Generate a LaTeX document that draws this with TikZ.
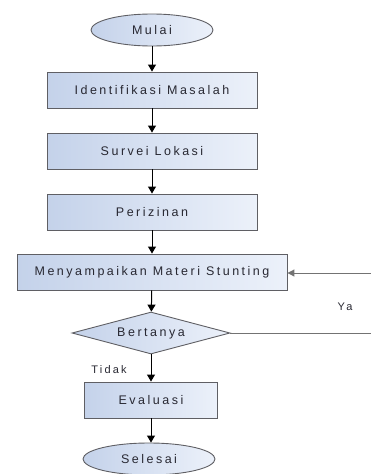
\documentclass[tikz,border=0pt]{standalone}
\usepackage{fontspec}
\setmainfont{Liberation Sans}
\usetikzlibrary{shapes.geometric,arrows.meta}

\definecolor{boxleft}{RGB}{196,210,234}
\definecolor{boxright}{RGB}{236,241,250}
\definecolor{edgegray}{RGB}{95,95,100}
\definecolor{textgray}{RGB}{40,40,50}

\tikzset{
  label font/.style={font=\fontsize{12.5}{14}\selectfont\addfontfeature{LetterSpace=20}, text=textgray},
  stepbox/.style={rectangle, draw=edgegray, line width=0.9pt,
    left color=boxleft, right color=boxright,
    minimum height=36pt, inner sep=0pt, label font},
  terminal/.style={ellipse, draw=edgegray, line width=0.9pt,
    left color=boxleft, right color=boxright,
    minimum height=32pt, inner sep=0pt, label font},
  decision/.style={diamond, draw=edgegray, line width=0.9pt,
    left color=boxleft, right color=boxright, shape aspect=3.76,
    minimum width=158pt, minimum height=42pt, inner sep=0pt, label font},
  flow/.style={-{Triangle[length=7pt,width=8pt]}, line width=1pt, black},
  back/.style={line width=1pt, black!55},
  side text/.style={font=\fontsize{11}{13}\selectfont\addfontfeature{LetterSpace=20}, text=textgray}
}

\begin{document}
\begin{tikzpicture}[x=1pt, y=-1pt]

  \useasboundingbox (0,0) rectangle (371,474);

  % main chain
  \node[terminal, minimum width=122pt] (mulai) at (152,30) {Mulai};
  \node[stepbox, minimum width=210pt] (identifikasi) at (152,90) {Identifikasi Masalah};
  \node[stepbox, minimum width=210pt] (survei) at (152,151) {Survei Lokasi};
  \node[stepbox, minimum width=210pt] (izin) at (152,212) {Perizinan};
  \node[stepbox, minimum width=270pt] (materi) at (152,272) {Menyampaikan Materi Stunting};
  \node[decision] (tanya) at (151,333) {Bertanya};
  \node[stepbox, minimum width=133pt] (evaluasi) at (151,400) {Evaluasi};
  \node[terminal, minimum width=132pt] (selesai) at (149,459) {Selesai};

  \draw[flow] (mulai) -- (identifikasi);
  \draw[flow] (identifikasi) -- (survei);
  \draw[flow] (survei) -- (izin);
  \draw[flow] (izin) -- (materi);
  \draw[flow] (materi) -- (tanya);
  \draw[flow] (tanya) -- (evaluasi);
  \draw[flow] (evaluasi.south) -- (evaluasi.south |- selesai.north);

  % loop back (Ya)
  \coordinate (ujungatas) at (371,273);
  \coordinate (ujungbawah) at (371,333);
  \draw[back, -{Triangle[length=7pt,width=7pt]}] (ujungatas) -- (materi.east |- ujungatas);
  \draw[back] (tanya.east) -- (ujungbawah);

  \node[side text] (ya) at (345,307) {Ya};
  \node[side text] (tidak) at (109,370) {Tidak};

\end{tikzpicture}
\end{document}
